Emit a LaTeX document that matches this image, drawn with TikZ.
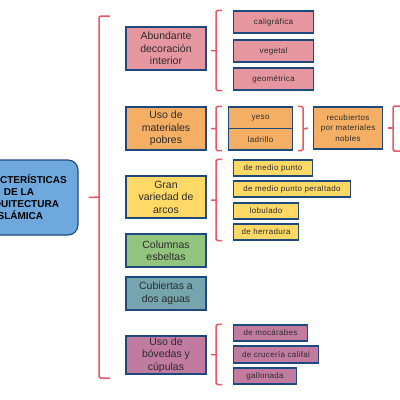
\documentclass[tikz,border=0pt]{standalone}
\usepackage{fontspec}
\setmainfont{Liberation Sans}
\newfontfamily\subfont{Liberation Sans}[LetterSpace=4]
\usetikzlibrary{calc}
\definecolor{azul}{HTML}{6FA8DC}
\definecolor{rosa}{HTML}{E6969E}
\definecolor{naranja}{HTML}{F5AF64}
\definecolor{amarillo}{HTML}{FFD966}
\definecolor{verde}{HTML}{93C47D}
\definecolor{azulgris}{HTML}{76A5AF}
\definecolor{malva}{HTML}{C27BA0}
\definecolor{borde}{HTML}{1F497D}
\definecolor{llavecol}{HTML}{EA5662}
\definecolor{texto}{HTML}{2B2B2B}
\tikzset{
  principal/.style={draw=borde, line width=1.1pt, fill=azul, rounded corners=10pt,
    minimum width=118pt, minimum height=75pt, inner sep=0pt, align=center,
    font=\bfseries\fontsize{10}{12}\selectfont},
  tema/.style={draw=borde, line width=1.1pt, fill=#1, minimum width=80pt, inner sep=0pt,
    align=center, text=texto, font=\fontsize{10.5}{12.5}\selectfont},
  caja/.style={draw=borde, line width=1.1pt, fill=#1, anchor=west, minimum height=16pt,
    inner sep=0pt, text=texto, font=\subfont\fontsize{8}{10.5}\selectfont},
  llave/.style={draw=llavecol, line width=1.5pt, rounded corners=1.5pt}
}
\begin{document}
\begin{tikzpicture}[x=1pt,y=-1pt]
  \useasboundingbox (0,0) rectangle (400,400);
  \node[principal] (main) at (19,197.5) {CARACTERÍSTICAS\\DE LA\\ARQUITECTURA\\ISLÁMICA};

  \node[tema=rosa, minimum height=43pt] (deco) at (166,48.5) {Abundante\\decoración\\interior};
  \node[tema=naranja, minimum height=43pt] (mat) at (166,128.5) {Uso de\\materiales\\pobres};
  \node[tema=amarillo, minimum height=42pt] (arcos) at (166,197) {Gran\\variedad de\\arcos};
  \node[tema=verde, minimum height=33pt] (col) at (166,250.5) {Columnas\\esbeltas};
  \node[tema=azulgris, minimum height=33pt] (cub) at (166,293.5) {Cubiertas a\\dos aguas};
  \node[tema=malva, minimum height=38pt] (bov) at (166,355) {Uso de\\bóvedas y\\cúpulas};

  \node[caja=rosa, minimum width=80pt, minimum height=22pt] (cal) at (233,22) {caligráfica};
  \node[caja=rosa, minimum width=80pt, minimum height=22pt] (veg) at (233,51) {vegetal};
  \node[caja=rosa, minimum width=80pt, minimum height=22pt] (geo) at (233,79) {geométrica};
  \node[caja=naranja, minimum width=64pt, minimum height=21.5pt] (yeso) at (228,117.75) {yeso};
  \node[caja=naranja, minimum width=64pt, minimum height=21.5pt] (ladrillo) at (228,139.25) {ladrillo};
  \node[caja=naranja, minimum width=69pt, minimum height=42pt, align=center] (recub) at (313,128) {recubiertos\\por materiales\\nobles};
  \node[caja=amarillo, minimum width=79pt] (mp) at (233,168) {de medio punto};
  \node[caja=amarillo, minimum width=117pt] (mpp) at (233,189) {de medio punto peraltado};
  \node[caja=amarillo, minimum width=65pt] (lob) at (233,211) {lobulado};
  \node[caja=amarillo, minimum width=65pt] (her) at (233,232) {de herradura};
  \node[caja=malva, minimum width=74pt] (moc) at (233,333) {de mocárabes};
  \node[caja=malva, minimum width=85pt, minimum height=17pt] (cru) at (233,354.5) {de crucería califal};
  \node[caja=malva, minimum width=63pt] (gal) at (233,376) {gallonada};

  % llave principal
  \coordinate (mb) at (99,197);
  \draw[llave] (110,16) -| (99,378) -- (110,378);
  \draw[llave] ([xshift=10pt]main.east) -- (mb);

  % llaves de segundo nivel
  \coordinate (bx) at (216,0);
  \foreach \t/\b in {cal/geo, yeso/ladrillo, mp/her, moc/gal}
    \draw[llave] ($(bx |- \t.north)+(6,0)$) -- (bx |- \t.north) -- (bx |- \b.south) -- ($(bx |- \b.south)+(6,0)$)
      ($(bx |- \t.north)!.5!(bx |- \b.south)$) -- ++(-5,0);

  % yeso y ladrillo
  \draw[llave] ($(yeso.north east)+(5,0)$) -- ++(5,0) |- ($(ladrillo.south east)+(5,0)$);
  \draw[llave] ($(yeso.south east)+(10,0)$) -- ($(recub.west)+(-5,0)$);
  \coordinate (rb) at (393,128);
  \draw[llave] ($(recub.east)+(5,0)$) -- (rb);
  \draw[llave] (406,106) -| (393,151) -- (406,151);
\end{tikzpicture}
\end{document}
